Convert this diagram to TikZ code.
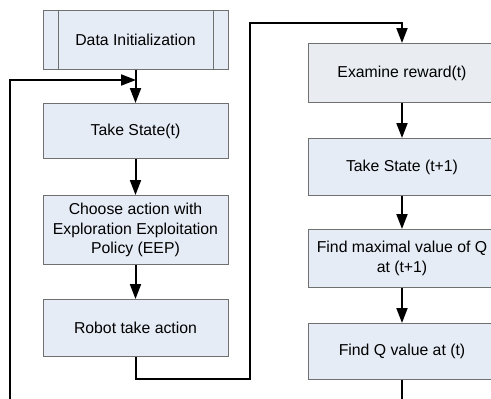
\documentclass[tikz,border=0pt]{standalone}
\usepackage{fontspec}
\setmainfont{Liberation Sans}
\usetikzlibrary{arrows.meta}
\definecolor{boxfill}{HTML}{E6ECF6}
\definecolor{boxfillB}{HTML}{E9EDF2}
\definecolor{boxline}{HTML}{707070}
\begin{document}
\begin{tikzpicture}[x=1pt,y=-1pt,
  stepbox/.style={draw=boxline,fill=boxfill,line width=0.9pt,minimum width=185pt,align=center,font=\fontsize{15.8}{19.5}\selectfont,inner sep=0pt,anchor=north},
  conn/.style={line width=2pt,-{Triangle[length=15pt,width=11pt]}},
  plain/.style={line width=2pt}]
\useasboundingbox (0,0) rectangle (491,399);
\clip (0,0) rectangle (491,399);
\fill[white] (0,0) rectangle (491,399);
% left column
\node[stepbox,minimum height=59pt] (init) at (135.5,10) {Data Initialization};
\draw[boxline,line width=0.9pt] (58,10) -- (58,69) (213,10) -- (213,69);
\node[stepbox,minimum height=55pt] (s1) at (135.5,103) {Take State(t)};
\node[stepbox,minimum height=69pt] (choose) at (135.5,195) {Choose action with\\Exploration Exploitation\\Policy (EEP)};
\node[stepbox,minimum height=57pt] (robot) at (135.5,299) {Robot take action};
% right column
\node[stepbox,fill=boxfillB,minimum height=59pt,minimum width=188pt] (exam) at (402,43) {Examine reward(t)};
\node[stepbox,minimum height=57pt,minimum width=188pt] (s2) at (402,138) {Take State (t+1)};
\node[stepbox,minimum height=58pt,minimum width=188pt] (maxq) at (402,229) {Find maximal value of Q\\at (t+1)};
\node[stepbox,minimum height=56pt,minimum width=188pt] (qval) at (402,323) {Find Q value at (t)};
\coordinate (join) at (136,80);
% connectors
\draw[conn] (init.south) -- (s1.north);
\draw[conn] (s1.south) -- (choose.north);
\draw[conn] (choose.south) -- (robot.north);
\draw[conn] (robot.south) -- ++(0,22) -| (250,23) -| (exam.north);
\draw[conn] (exam.south) -- (s2.north);
\draw[conn] (s2.south) -- (maxq.north);
\draw[conn] (maxq.south) -- (qval.north);
\draw[conn] (qval.south) -- ++(0,40) -| (10,80) -- (join);
\end{tikzpicture}
\end{document}
